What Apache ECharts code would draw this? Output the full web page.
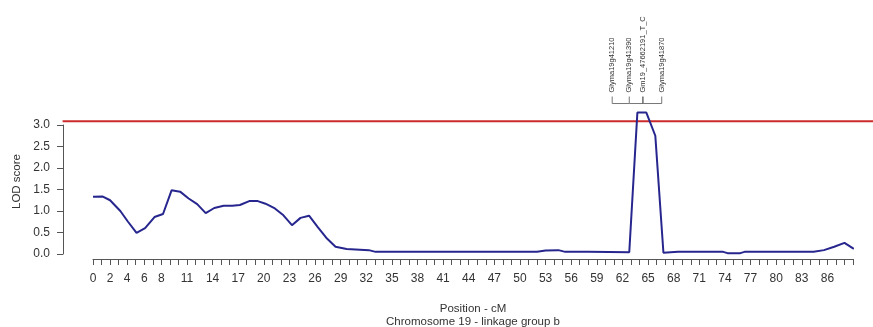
<!DOCTYPE html>
<html>
<head>
<meta charset="utf-8">
<script src="https://cdn.jsdelivr.net/npm/echarts@6/dist/echarts.min.js"></script>
<style>
html,body{margin:0;padding:0;background:#fff;}
#chart{width:873px;height:327px;}
</style>
</head>
<body>
<div id="chart"></div>
<script>
// ---- data ----
const positions = [0, 1.1, 2.0, 3.2, 4.1, 5.1, 6.1, 7.2, 8.2, 9.2, 10.2, 11.2, 12.2, 13.2, 14.2, 15.3, 16.3, 17.2, 18.3, 19.3, 20.2, 21.3, 22.3, 23.3, 24.3, 25.3, 26.3, 27.4, 28.4, 29.7, 32.3, 33.1, 40, 45, 52.0, 53.0, 54.5, 55.3, 58, 62.8, 63.75, 64.8, 65.85, 66.8, 68.5, 73.8, 74.3, 75.8, 76.3, 80, 84.4, 85.6, 86.8, 88.0, 89.1];
const lodScores = [1.33, 1.34, 1.25, 1.0, 0.75, 0.49, 0.6, 0.86, 0.93, 1.48, 1.45, 1.29, 1.16, 0.95, 1.07, 1.12, 1.12, 1.14, 1.23, 1.23, 1.17, 1.06, 0.90, 0.67, 0.84, 0.89, 0.63, 0.36, 0.17, 0.115, 0.09, 0.05, 0.05, 0.05, 0.05, 0.08, 0.09, 0.05, 0.05, 0.04, 3.29, 3.29, 2.75, 0.03, 0.05, 0.05, 0.02, 0.02, 0.05, 0.05, 0.05, 0.09, 0.17, 0.26, 0.12];
const xTickLabels = [0, 2, 4, 6, 8, 11, 14, 17, 20, 23, 26, 29, 32, 35, 38, 41, 44, 47, 50, 53, 56, 59, 62, 65, 68, 71, 74, 77, 80, 83, 86];
const yTickLabels = ['0.0', '0.5', '1.0', '1.5', '2.0', '2.5', '3.0'];
const threshold = 3.09;
const markerNames = ['Glyma19g41210', 'Glyma19g41390', 'Gm19_47662191_T_C', 'Glyma19g41870'];
const markerPositions = [60.8, 62.8, 64.4, 66.6];

const xMin = 0, xMax = 89;
const FONT = 'Liberation Sans, Arial, sans-serif';

const chart = echarts.init(document.getElementById('chart'), null, {renderer: 'canvas'});

const option = {
  animation: false,
  backgroundColor: '#ffffff',
  grid: {left: 93, right: 20, top: 125, bottom: 73, containLabel: false, outerBoundsMode: 'none'},
  xAxis: {
    type: 'value', min: xMin, max: xMax, interval: 1, offset: 5,
    axisLine: {show: true, onZero: false, lineStyle: {color: '#555', width: 1}},
    axisTick: {show: true, length: 6, lineStyle: {color: '#555'}},
    splitLine: {show: false},
    axisLabel: {
      margin: 14, color: '#333', fontSize: 12, fontFamily: FONT,
      formatter: v => xTickLabels.indexOf(Math.round(v)) >= 0 ? String(Math.round(v)) : ''
    },
    name: 'Position - cM\nChromosome 19 - linkage group b',
    nameLocation: 'middle', nameGap: 43,
    nameTextStyle: {color: '#333', fontSize: 11.5, fontFamily: FONT, lineHeight: 13.5}
  },
  yAxis: {
    type: 'value', min: 0, max: 3, interval: 0.5, offset: 30,
    axisLine: {show: true, onZero: false, lineStyle: {color: '#555', width: 1}},
    axisTick: {show: true, length: 6, lineStyle: {color: '#555'}},
    splitLine: {show: false},
    axisLabel: {
      margin: 13, color: '#333', fontSize: 12, fontFamily: FONT,
      formatter: v => yTickLabels[Math.round(v * 2)]
    },
    name: 'LOD score', nameLocation: 'middle', nameGap: 38,
    nameTextStyle: {color: '#333', fontSize: 11.5, fontFamily: FONT, padding: [0, 0, 0, 16]}
  },
  series: [
    {
      type: 'custom', clip: false, silent: true, z: 1,
      data: [[threshold]],
      renderItem: function (params, api) {
        const ext = 0.04 * (xMax - xMin);
        const p1 = api.coord([xMin - ext, api.value(0)]);
        const p2 = api.coord([xMax + ext, api.value(0)]);
        return {type: 'line', shape: {x1: p1[0], y1: p1[1], x2: p2[0], y2: p2[1]},
          style: {stroke: '#cc2b2b', lineWidth: 2}};
      }
    },
    {
      type: 'line', clip: false, z: 3, symbol: 'none', silent: true,
      data: positions.map((p, i) => [p, lodScores[i]]),
      lineStyle: {color: '#26268e', width: 2}
    },
    {
      type: 'custom', clip: false, silent: true, z: 2,
      data: markerPositions.map((p, i) => [p, i]),
      renderItem: function (params, api) {
        const i = api.value(1);
        const peak = Math.max.apply(null, lodScores);
        const base = api.coord([api.value(0), peak]);
        const by = base[1] - 9;
        const children = [
          {type: 'line', shape: {x1: base[0], y1: by, x2: base[0], y2: by - 7},
            style: {stroke: i === 2 ? '#222' : '#777', lineWidth: 1}},
          {type: 'text', x: base[0], y: by - 11, rotation: Math.PI / 2,
            style: {text: markerNames[i], fill: '#333', font: '7.5px ' + FONT,
              align: 'left', verticalAlign: 'middle'}}
        ];
        if (i < markerPositions.length - 1) {
          const next = api.coord([markerPositions[i + 1], peak]);
          children.push({type: 'line', shape: {x1: base[0], y1: by, x2: next[0], y2: by},
            style: {stroke: '#777', lineWidth: 1}});
        }
        return {type: 'group', children: children};
      }
    }
  ]
};
chart.setOption(option);
</script>
</body>
</html>
